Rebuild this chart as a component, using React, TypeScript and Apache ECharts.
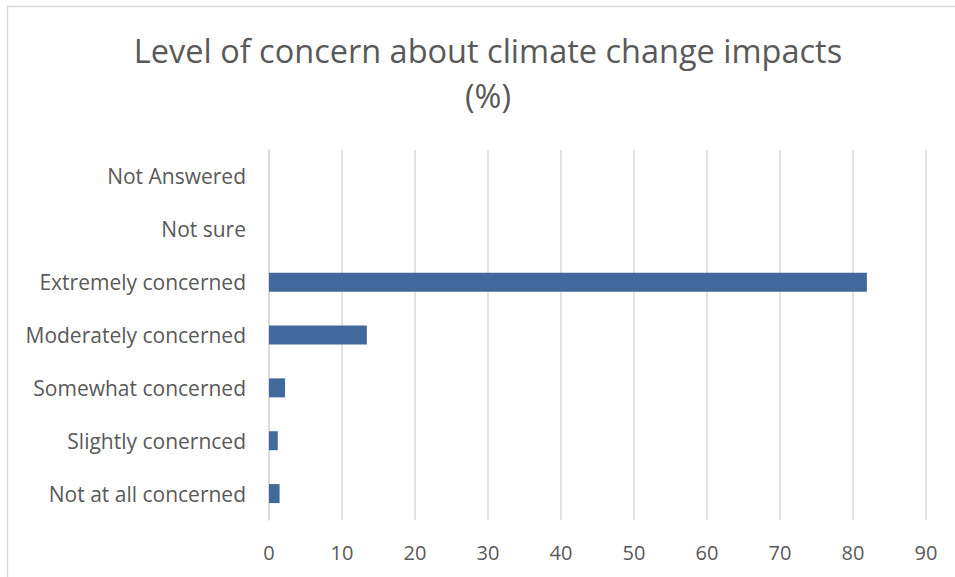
import React, { useEffect, useRef } from "react";
import * as echarts from "echarts";

const categories = [
  "Not at all concerned",
  "Slightly conernced",
  "Somewhat concerned",
  "Moderately concerned",
  "Extremely concerned",
  "Not sure",
  "Not Answered",
];
const percentages = [1.45, 1.2, 2.2, 13.4, 81.9, 0, 0];
const xTicks = { min: 0, max: 90, interval: 10 };
const titleLines = ["Level of concern about climate change impacts", "(%)"];

const FONT = "Open Sans";
const TEXT = "#595959";
const GRID_LINE = "#D9D9D9";
const BAR = "#41699B";

export default function App() {
  const ref = useRef<HTMLDivElement>(null);

  useEffect(() => {
    if (!ref.current) return;
    const chart = echarts.init(ref.current, undefined, { renderer: "svg" });
    chart.setOption({
      animation: false,
      backgroundColor: "#ffffff",
      textStyle: { fontFamily: FONT },
      title: {
        text: titleLines.join("\n"),
        left: 483,
        top: 23,
        textAlign: "center",
        textStyle: {
          fontFamily: FONT,
          fontSize: 32.5,
          fontWeight: "normal",
          color: TEXT,
          lineHeight: 45,
        },
      },
      graphic: [
        {
          type: "rect",
          shape: { x: 7.5, y: 6.5, width: 960, height: 600 },
          style: { fill: "none", stroke: GRID_LINE, lineWidth: 1.5 },
          silent: true,
        },
      ],
      grid: { left: 269, right: 29, top: 150, bottom: 57, containLabel: false },
      xAxis: {
        type: "value",
        min: xTicks.min,
        max: xTicks.max,
        interval: xTicks.interval,
        axisLine: { show: false },
        axisTick: { show: false },
        splitLine: { show: true, lineStyle: { color: GRID_LINE, width: 1.5 } },
        axisLabel: { color: TEXT, fontSize: 20, fontFamily: FONT, margin: 22 },
      },
      yAxis: {
        type: "category",
        data: categories,
        axisLine: { show: true, lineStyle: { color: GRID_LINE, width: 1.5 } },
        axisTick: { show: false },
        axisLabel: { color: TEXT, fontSize: 21, fontFamily: FONT, margin: 23 },
      },
      series: [
        {
          type: "bar",
          data: percentages,
          barWidth: 19,
          itemStyle: { color: BAR },
        },
      ],
    });
    return () => chart.dispose();
  }, []);

  return (
    <div
      ref={ref}
      style={{ position: "fixed", left: 0, top: 0, width: 955, height: 577 }}
    />
  );
}
